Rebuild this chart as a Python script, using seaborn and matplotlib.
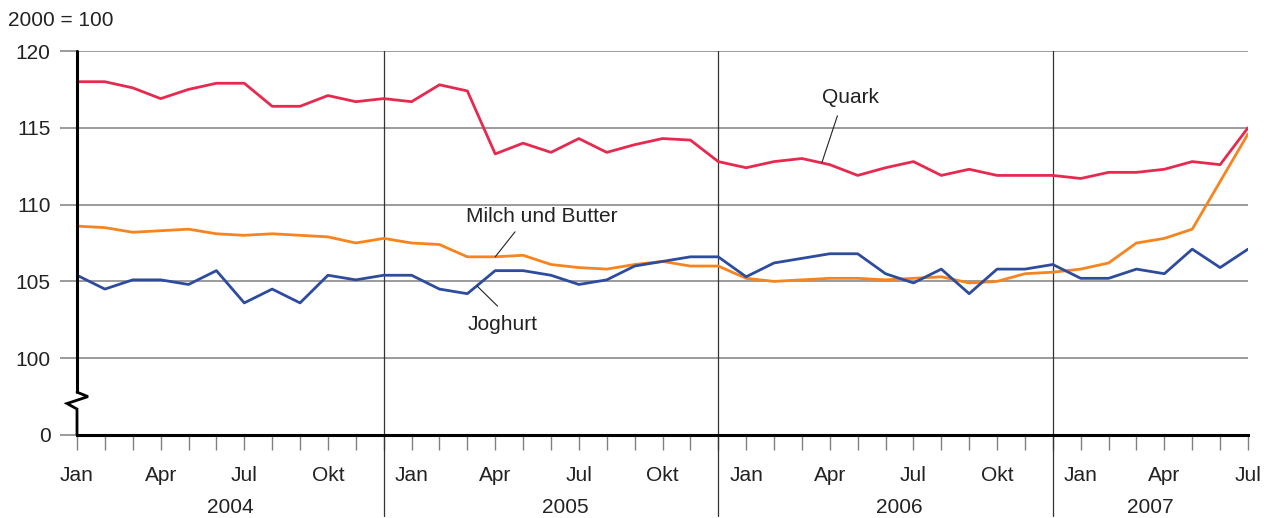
import numpy as np
import pandas as pd
import matplotlib.pyplot as plt
import seaborn as sns
from matplotlib.transforms import blended_transform_factory

# Monatswerte Jan 2004 - Jul 2007, 2000 = 100
monate = ["Jan", "Feb", "Mrz", "Apr", "Mai", "Jun", "Jul", "Aug", "Sep", "Okt", "Nov", "Dez"]
jahre = ["2004", "2005", "2006", "2007"]

quark = [118.0, 118.0, 117.6, 116.9, 117.5, 117.9, 117.9, 116.4, 116.4, 117.1, 116.7, 116.9,
         116.7, 117.8, 117.4, 113.3, 114.0, 113.4, 114.3, 113.4, 113.9, 114.3, 114.2, 112.8,
         112.4, 112.8, 113.0, 112.6, 111.9, 112.4, 112.8, 111.9, 112.3, 111.9, 111.9, 111.9,
         111.7, 112.1, 112.1, 112.3, 112.8, 112.6, 115.0]
milch_butter = [108.6, 108.5, 108.2, 108.3, 108.4, 108.1, 108.0, 108.1, 108.0, 107.9, 107.5, 107.8,
                107.5, 107.4, 106.6, 106.6, 106.7, 106.1, 105.9, 105.8, 106.1, 106.3, 106.0, 106.0,
                105.2, 105.0, 105.1, 105.2, 105.2, 105.1, 105.2, 105.3, 104.9, 105.0, 105.5, 105.6,
                105.8, 106.2, 107.5, 107.8, 108.4, 111.5, 114.6]
joghurt = [105.4, 104.5, 105.1, 105.1, 104.8, 105.7, 103.6, 104.5, 103.6, 105.4, 105.1, 105.4,
           105.4, 104.5, 104.2, 105.7, 105.7, 105.4, 104.8, 105.1, 106.0, 106.3, 106.6, 106.6,
           105.3, 106.2, 106.5, 106.8, 106.8, 105.5, 104.9, 105.8, 104.2, 105.8, 105.8, 106.1,
           105.2, 105.2, 105.8, 105.5, 107.1, 105.9, 107.1]

ytick_werte = [95, 100, 105, 110, 115, 120]   # 95 steht fuer die Null (Achsenbruch)
ytick_labels = ["0", "100", "105", "110", "115", "120"]

farben = {"Milch und Butter": "#f7841e", "Joghurt": "#2e4c9e", "Quark": "#e8294f"}

n = len(quark)
df = pd.concat([
    pd.DataFrame({"idx": np.arange(n), "wert": milch_butter, "serie": "Milch und Butter"}),
    pd.DataFrame({"idx": np.arange(n), "wert": joghurt, "serie": "Joghurt"}),
    pd.DataFrame({"idx": np.arange(n), "wert": quark, "serie": "Quark"}),
])

sns.set_style("white")
plt.rcParams['font.family'] = ['Liberation Sans', 'DejaVu Sans']
fs = 15

fig = plt.figure(figsize=(12.75, 5.18), dpi=100)
ax = fig.add_axes([77 / 1275, 1 - 435 / 518, (1248 - 77) / 1275, (435 - 51) / 518])

sns.lineplot(data=df, x="idx", y="wert", hue="serie", palette=farben,
             linewidth=2.0, legend=False, ax=ax)

ax.set_xlim(0, n - 1)
ax.set_ylim(95, 120)
ax.set_xlabel("")
ax.set_ylabel("")

# y-Achse
ax.set_yticks(ytick_werte)
ax.set_yticklabels(ytick_labels)
ax.grid(axis="y", color="#808080", lw=1.1)
ax.grid(axis="x", visible=False)
ax.tick_params(axis="y", left=True, length=12, width=1.1, color="#808080",
               pad=7, labelsize=fs, labelcolor="#222222")

# x-Achse: jeder Monat ein Strich, beschriftet nur Quartale
xt = np.arange(n)
xl = [monate[i % 12] if i % 3 == 0 else "" for i in xt]
ax.set_xticks(xt)
ax.set_xticklabels(xl)
ax.tick_params(axis="x", bottom=True, length=11, width=1.0, color="#808080",
               pad=11, labelsize=fs, labelcolor="#222222")

for s in ["top", "right", "left"]:
    ax.spines[s].set_visible(False)
ax.spines["bottom"].set_color("black")
ax.spines["bottom"].set_linewidth(2.2)
ax.spines["bottom"].set_zorder(5)

# linke Achse mit Bruch
tr = blended_transform_factory(ax.transAxes, ax.transData)
ax.plot([0, 0], [120, 97.79], transform=tr, color="black", lw=2.2, clip_on=False, zorder=6)
ax.plot([0, 0.0094, -0.0085, 0, 0], [97.79, 97.5, 97.05, 96.69, 95], transform=tr,
        color="black", lw=2.0, clip_on=False, zorder=6, solid_joinstyle="miter")

# Jahrestrenner und Jahresbeschriftung
for x in [11, 23, 35]:
    ax.axvline(x, ymin=-0.21, ymax=1, color="#333333", lw=0.9, clip_on=False, zorder=1)
trx = blended_transform_factory(ax.transData, ax.transAxes)
for xpos, j in zip([5.5, 17.5, 29.5, 38.5], jahre):
    ax.text(xpos, -0.19, j, transform=trx, ha="center", va="center",
            fontsize=fs, color="#222222")

# Beschriftungen der Linien
ax.annotate("Quark", xy=(26.72, 112.75), xytext=(27.73, 117.0), ha="center", va="center",
            fontsize=fs, color="#222222",
            arrowprops=dict(arrowstyle="-", color="#222222", lw=0.8, patchA=None,
                            relpos=(0.33, 0), shrinkA=7, shrinkB=0))
ax.annotate("Milch und Butter", xy=(15, 106.6), xytext=(16.68, 109.2), ha="center", va="center",
            fontsize=fs, color="#222222",
            arrowprops=dict(arrowstyle="-", color="#222222", lw=0.8, patchA=None,
                            relpos=(0.35, 0), shrinkA=5, shrinkB=0))
ax.annotate("Joghurt", xy=(14.35, 104.7), xytext=(15.28, 102.2), ha="center", va="center",
            fontsize=fs, color="#222222",
            arrowprops=dict(arrowstyle="-", color="#222222", lw=0.8, patchA=None,
                            relpos=(0.55, 1), shrinkA=9, shrinkB=0))

fig.text(8 / 1275, 1 - 20 / 518, "2000 = 100", ha="left", va="center",
         fontsize=fs, color="#222222")

fig.savefig("out.png", dpi=100)
